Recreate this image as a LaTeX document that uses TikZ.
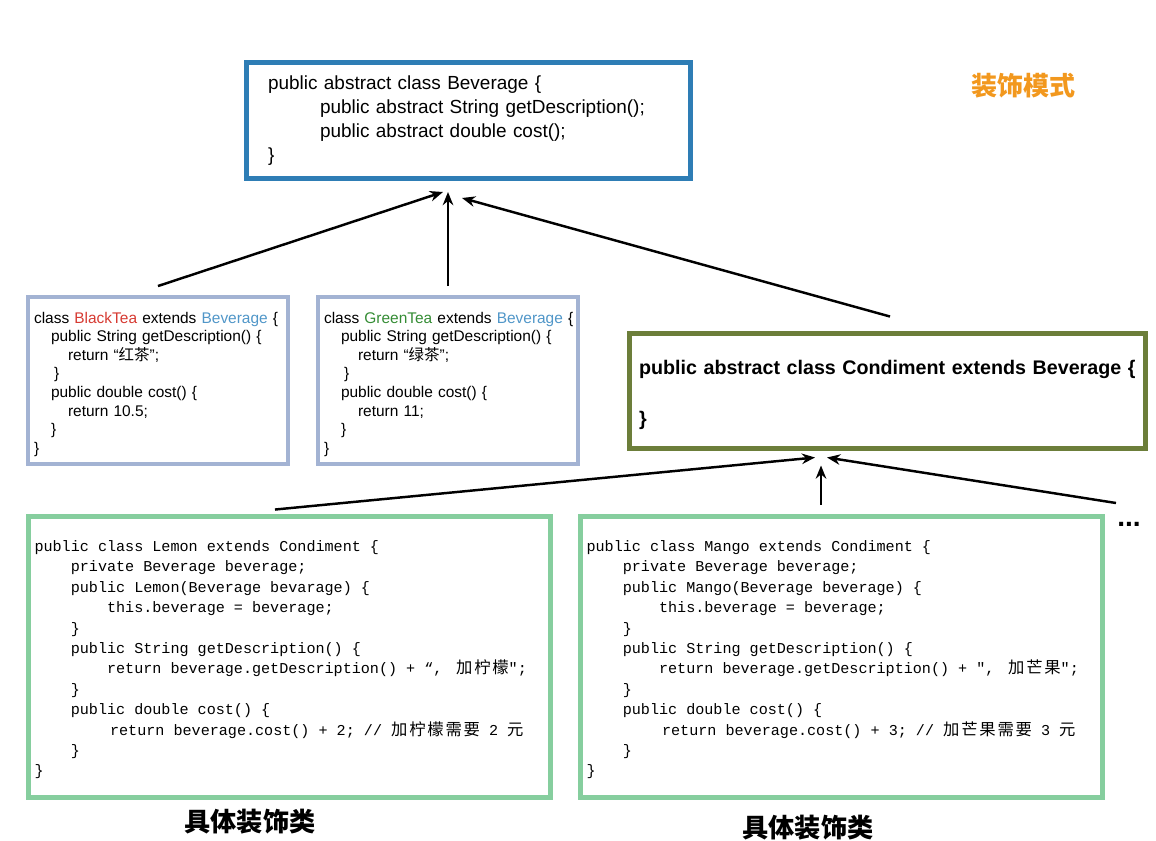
\documentclass[tikz,border=0pt]{standalone}
\usepackage{fontspec}
\setmainfont{Liberation Sans}
\setmonofont{Liberation Mono}
\newfontfamily\cjk{Noto Sans CJK SC}
\newfontfamily\cjkmono{Noto Sans CJK SC}[Scale=1.08, LetterSpace=11]
\usetikzlibrary{calc, arrows.meta}

\definecolor{bevBlue}{RGB}{46,125,181}
\definecolor{teaFrame}{RGB}{163,179,211}
\definecolor{condOlive}{RGB}{108,126,58}
\definecolor{decoGreen}{RGB}{134,206,158}
\definecolor{redTea}{RGB}{214,58,50}
\definecolor{greenTea}{RGB}{52,140,52}
\definecolor{textBlue}{RGB}{80,150,200}
\definecolor{titleOrange}{RGB}{242,152,30}

\newcommand{\zh}[1]{{\cjk #1}}
\newcommand{\zhm}[1]{{\cjkmono #1}}

\begin{document}
\begin{tikzpicture}[x=0.02cm, y=-0.02cm, >={Stealth[length=7.5pt,width=6pt]},
    bevbox/.style={draw=bevBlue, line width=0.1cm, align=left,
      minimum width=8.88cm, minimum height=2.34cm, inner xsep=0.43cm, text width=8.02cm,
      font=\fontsize{10.8}{13.7}\selectfont},
    teabox/.style={draw=teaFrame, line width=0.08cm, align=left,
      minimum width=5.2cm, minimum height=3.34cm, inner xsep=0.12cm, text width=4.96cm,
      font=\fontsize{8.8}{10.6}\selectfont},
    condbox/.style={draw=condOlive, line width=0.1cm, align=left,
      minimum width=10.32cm, minimum height=2.3cm, inner xsep=0.19cm, text width=9.94cm,
      font=\fontsize{11.2}{14.5}\selectfont\bfseries},
    decobox/.style={draw=decoGreen, line width=0.1cm, align=left,
      minimum width=10.44cm, minimum height=5.62cm, inner xsep=0.12cm, text width=10.2cm,
      font=\fontsize{8.6}{11.6}\selectfont\ttfamily,
      execute at begin node={\spaceskip=0.6em\relax}},
    arr/.style={->, line width=1.4pt},
    zhlabel/.style={font=\fontsize{14.9}{16}\selectfont\cjk\bfseries}]

    % --- 1. page frame ---
    \useasboundingbox (0,0) rectangle (1156,840);

    % --- 2. base class ---
    \node[bevbox] (bev) at (468.5,120.5) {public abstract class Beverage \{\\
      \hspace*{1.04cm}public abstract String getDescription();\\
      \hspace*{1.04cm}public abstract double cost();\\
      \}};

    \node[font=\fontsize{14.8}{16}\selectfont\cjk\bfseries, text=titleOrange] (title) at (1023,86) {装饰模式};

    % --- 3. concrete beverages ---
    \node[teabox] (black) at (158,380.5) {\mbox{}\\
      \mbox{class \textcolor{redTea}{BlackTea} extends \textcolor{textBlue}{Beverage} \{}\\
      \hspace*{0.34cm}public String getDescription() \{\\
      \hspace*{0.68cm}return “\zh{红茶}";\\
      \hspace*{0.4cm}\}\\
      \hspace*{0.34cm}public double cost() \{\\
      \hspace*{0.68cm}return 10.5;\\
      \hspace*{0.34cm}\}\\
      \}};

    \node[teabox] (green) at (448,380.5) {\mbox{}\\
      \mbox{class \textcolor{greenTea}{GreenTea} extends \textcolor{textBlue}{Beverage} \{}\\
      \hspace*{0.34cm}public String getDescription() \{\\
      \hspace*{0.68cm}return “\zh{绿茶}";\\
      \hspace*{0.4cm}\}\\
      \hspace*{0.34cm}public double cost() \{\\
      \hspace*{0.68cm}return 11;\\
      \hspace*{0.34cm}\}\\
      \}};

    % --- 4. decorator base ---
    \node[condbox] (cond) at (887.5,391) {\mbox{}\\[-1.7pt]
      \mbox{public abstract class Condiment extends Beverage \{}\\[14.5pt]
      \}};

    % --- 5. concrete decorators ---
    \node[decobox] (lemon) at (289.5,657) {\mbox{}\\[-2.2pt]
      public class Lemon extends Condiment \{\\
      \hspace*{2.4em}private Beverage beverage;\\
      \hspace*{2.4em}public Lemon(Beverage bevarage) \{\\
      \hspace*{4.8em}this.beverage = beverage;\\
      \hspace*{2.4em}\}\\
      \hspace*{2.4em}public String getDescription() \{\\
      \hspace*{4.8em}return beverage.getDescription() + “,\hspace{0.9em}\zhm{加柠檬}";\\
      \hspace*{2.4em}\}\\
      \hspace*{2.4em}public double cost() \{\\
      \hspace*{5.0em}return beverage.cost() + 2; // \zhm{加柠檬需要} 2 \zhm{元}\\
      \hspace*{2.4em}\}\\
      \}};

    \node[decobox] (mango) at (841.5,657) {\mbox{}\\[-2.2pt]
      public class Mango extends Condiment \{\\
      \hspace*{2.4em}private Beverage beverage;\\
      \hspace*{2.4em}public Mango(Beverage beverage) \{\\
      \hspace*{4.8em}this.beverage = beverage;\\
      \hspace*{2.4em}\}\\
      \hspace*{2.4em}public String getDescription() \{\\
      \hspace*{4.8em}return beverage.getDescription() + ",\hspace{0.9em}\zhm{加芒果}";\\
      \hspace*{2.4em}\}\\
      \hspace*{2.4em}public double cost() \{\\
      \hspace*{5.0em}return beverage.cost() + 3; // \zhm{加芒果需要} 3 \zhm{元}\\
      \hspace*{2.4em}\}\\
      \}};

    \node[font=\fontsize{16}{16}\selectfont\bfseries] (dots) at (1129,524) {...};

    \node[zhlabel] (lemonTag) at (250,822) {具体装饰类};
    \node[zhlabel] (mangoTag) at (808,828) {具体装饰类};

    % --- 6. arrow ends ---
    \coordinate (blackOut) at ($(black.north)+(0,-9)$);
    \coordinate (greenOut) at ($(green.north)+(0,-9)$);
    \coordinate (condOut)  at ($(cond.north)+(2.5,-14.5)$);
    \coordinate (bevInA)   at ($(bev.south)+(-25.5,10.5)$);
    \coordinate (bevInB)   at ($(bev.south)+(-20.5,10.5)$);
    \coordinate (bevInC)   at ($(bev.south)+(-6.5,16.5)$);
    \coordinate (lemonOut) at ($(lemon.north)+(-14.5,-4.5)$);
    \coordinate (mangoOut) at ($(mango.north)+(-20.5,-9.5)$);
    \coordinate (dotsOut)  at ($(dots.center)+(-13,-21)$);
    \coordinate (condInA)  at ($(cond.south)+(-72.5,6.5)$);
    \coordinate (condInB)  at ($(cond.south)+(-66.5,14.5)$);
    \coordinate (condInC)  at ($(cond.south)+(-60.5,6.5)$);

    % --- 7. arrows ---
    \draw[arr] (blackOut) -- (bevInA);
    \draw[arr] (greenOut) -- (bevInB);
    \draw[arr] (condOut) -- (bevInC);
    \draw[arr] (lemonOut) -- (condInA);
    \draw[arr] (mangoOut) -- (condInB);
    \draw[arr] (dotsOut) -- (condInC);

  \end{tikzpicture}
\end{document}
